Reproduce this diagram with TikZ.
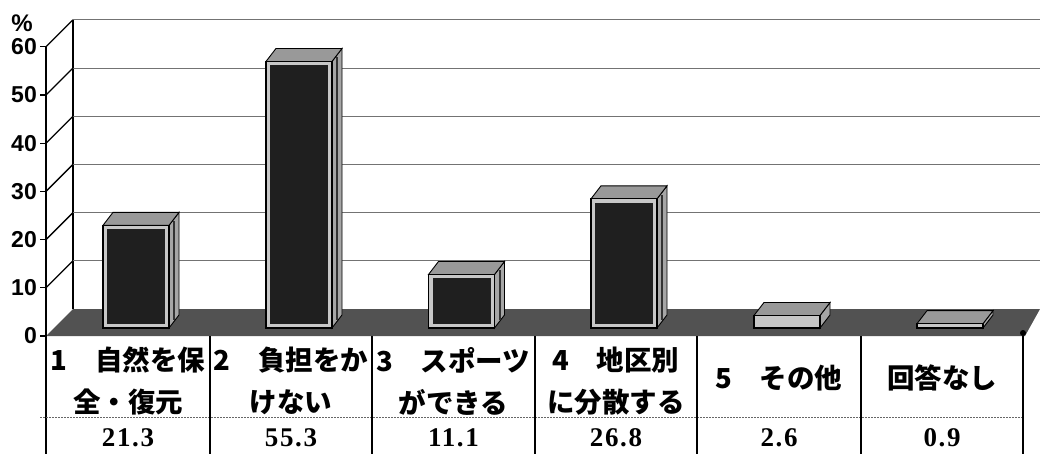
\documentclass[tikz,border=0pt]{standalone}
\usepackage{fontspec}
\setmainfont{Liberation Sans}
\newfontfamily\cjk{Noto Sans CJK JP}
\newfontfamily\valfont{Liberation Serif}[LetterSpace=6]
\begin{document}
\begin{tikzpicture}[x=1pt,y=-1pt,
  grid/.style={black!55,line width=0.9pt},
  axisline/.style={black,line width=1.3pt},
  tabline/.style={black,line width=1.4pt},
  ylab/.style={anchor=east,inner sep=0pt,font=\fontsize{23}{23}\selectfont\bfseries},
  catlab/.style={align=center,inner sep=0pt,font=\cjk\bfseries\fontsize{27.5}{42}\selectfont},
  vallab/.style={inner sep=0pt,font=\valfont\bfseries\fontsize{27}{27}\selectfont},
  frontface/.style={draw=black,line width=1.1pt,fill=black!22},
  sideface/.style={draw=black,line width=0.9pt,fill=black!35},
  topface/.style={draw=black,line width=0.9pt,fill=black!40}]
\useasboundingbox (0,0) rectangle (1040,454);
% floor
\fill[black!68] (46,336) -- (73,309) -- (1040,309) -- (1025,336) -- cycle;
\fill[black] (1023,333) circle (3);
% back wall gridlines and left wall
\draw[axisline] (73,20) -- (73,309);
\foreach \v in {10,20,30,40,50,60}{
  \pgfmathsetmacro\yf{336-\v*4.82}
  \pgfmathsetmacro\yb{309-\v*4.82}
  \draw[grid] (73,\yb) -- (1040,\yb);
  \draw[axisline] (46,\yf) -- (73,\yb);
  \draw[axisline] (40,\yf) -- (46,\yf);
  \node[ylab] (y\v) at (37,\yf) {\v};
}
\draw[axisline] (40,336) -- (46,336);
\node[ylab] (y0) at (37,336) {0};
\node[anchor=center,inner sep=0pt,font=\fontsize{24}{24}\selectfont\bfseries] (pct) at (22,23) {\%};
\draw[axisline] (46,47) -- (46,454);
% bars
\foreach \c/\v in {128/21.3,291/55.3,453.5/11.1,616/26.8,779/2.6,942/0.9}{
  \pgfmathsetmacro\L{\c+8-33}
  \pgfmathsetmacro\R{\c+8+33}
  \pgfmathsetmacro\T{328-\v*4.82}
  \filldraw[sideface] (\R,328) -- (\R+10,315) -- (\R+10,\T-13) -- (\R,\T) -- cycle;
  \filldraw[topface] (\L,\T) -- (\L+10,\T-13) -- (\R+10,\T-13) -- (\R,\T) -- cycle;
  \filldraw[frontface] (\L,\T) rectangle (\R,328);
  \ifdim\v pt>5pt
    \fill[black!88] (\L+4,\T+4) rectangle (\R-4,324);
    \draw[black!80,line width=2pt] (\R+5,\T-4) -- (\R+5,320);
  \fi
}
% table
\draw[black!60,line width=1pt,dash pattern=on 2pt off 1pt] (40,417) -- (1023,417);
\foreach \x in {210,372,535,697,861,1023}{
  \draw[tabline] (\x,336) -- (\x,454);
}
\node[catlab] (l1) at (128,381) {1　自然を保\\全・復元};
\node[catlab] (l2) at (291,381) {2　負担をか\\けない};
\node[catlab] (l3) at (453.5,381) {3　スポーツ\\ができる};
\node[catlab] (l4) at (616,381) {4　地区別\\に分散する};
\node[catlab] (l5) at (779,378) {5　その他};
\node[catlab] (l6) at (942,378) {回答なし};
\node[vallab] (v1) at (128,438) {21.3};
\node[vallab] (v2) at (291,438) {55.3};
\node[vallab] (v3) at (453.5,438) {11.1};
\node[vallab] (v4) at (616,438) {26.8};
\node[vallab] (v5) at (779,438) {2.6};
\node[vallab] (v6) at (942,438) {0.9};
\end{tikzpicture}
\end{document}
